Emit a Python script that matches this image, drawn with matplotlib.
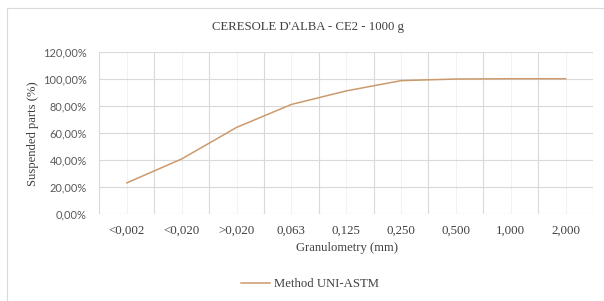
import matplotlib
matplotlib.use("Agg")
import matplotlib.pyplot as plt
from matplotlib.patches import Rectangle
import numpy as np

# Granulometric classes (mm) and suspended parts (%)
classes = ["<0,002", "<0,020", ">0,020", "0,063", "0,125", "0,250", "0,500", "1,000", "2,000"]
suspended = [23.0, 40.7, 64.0, 81.0, 91.0, 98.6, 99.8, 100.0, 100.0]
y_ticks = [0, 20, 40, 60, 80, 100, 120]

line_col = "#cc9a6c"
grid_col = "#d9d9d9"
text_col = "#404040"
serif = "Liberation Serif"

W, H = 604, 301
fig = plt.figure(figsize=(W / 100, H / 100), dpi=100)
ax = fig.add_axes([99.4 / W, 1 - 214 / H, (593 - 99.4) / W, (214 - 51.7) / H])

x = np.arange(len(classes))
line, = ax.plot(x, suspended, color=line_col, lw=1.1, label="Method UNI-ASTM")

ax.set_xlim(-0.5, len(classes) - 0.5)
ax.set_ylim(0, 120)

ax.set_xticks(x)
ax.set_xticklabels(classes, fontfamily=serif, fontsize=9.3, color=text_col)
ax.set_xticks(np.arange(-0.5, len(classes)), minor=True)
ax.set_yticks(y_ticks)
ax.set_yticklabels([f"{v},00%" for v in y_ticks], fontfamily="Lato", fontsize=7.9, color="#595959")

ax.tick_params(which="both", length=0)
ax.tick_params(axis="x", pad=8)
ax.tick_params(axis="y", pad=9)

ax.grid(which="minor", axis="x", color=grid_col, lw=0.8)
ax.grid(which="major", axis="x", color="#f0f0f0", lw=0.6)
ax.grid(which="major", axis="y", color=grid_col, lw=0.8)
ax.set_axisbelow(True)
for s in ax.spines.values():
    s.set_visible(False)

fig.text(308.5 / W, 1 - 26.7 / H, "CERESOLE D'ALBA - CE2 - 1000 g",
         ha="center", va="center", fontfamily=serif, fontsize=9.2, color=text_col)
fig.text(346.7 / W, 1 - 248 / H, "Granulometry (mm)",
         ha="center", va="center", fontfamily=serif, fontsize=9.1, color=text_col)
fig.text(32.7 / W, 1 - 134 / H, "Suspended parts (%)", rotation=90,
         ha="center", va="center", fontfamily=serif, fontsize=9.1, color=text_col)

fig.legend(handles=[line], loc="center", bbox_to_anchor=(310 / W, 1 - 284 / H),
           frameon=False, handlelength=2.3, handletextpad=0.3,
           prop={"family": serif, "size": 9.2}, labelcolor=text_col)

# chart area border (runs off the right and bottom of the image)
fig.patches.append(Rectangle((7 / W, -0.1), 1.2, 1.1 - 8 / H, transform=fig.transFigure,
                             fill=False, edgecolor=grid_col, lw=0.8))

fig.savefig("out.png", dpi=100)
